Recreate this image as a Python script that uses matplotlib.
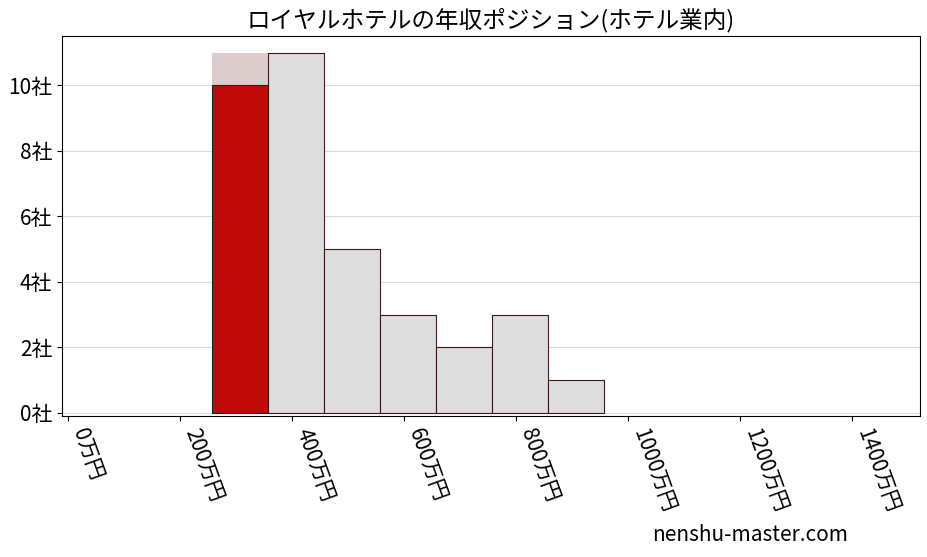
import matplotlib
matplotlib.use("Agg")
import matplotlib.pyplot as plt

plt.rcParams['font.family'] = ['Noto Sans CJK JP', 'DejaVu Sans']

# bin centres (万円) and company counts
centers = [307, 407, 507, 607, 707, 807, 907]
counts = [11, 11, 5, 3, 2, 3, 1]
own_center = 307
own_count = 10
xticks = [0, 200, 400, 600, 800, 1000, 1200, 1400]
yticks = [0, 2, 4, 6, 8, 10]

fig = plt.figure(figsize=(9.27, 5.57), dpi=100)
ax = fig.add_axes([0.067, 0.253, 0.925, 0.682])

ax.bar(centers[0], counts[0], width=100, color='#dccccc', edgecolor='none', zorder=2)
ax.bar(centers[1:], counts[1:], width=100, color='#dddddd', edgecolor='#3a1a1a', linewidth=0.8, zorder=2)
ax.bar(own_center, own_count, width=100, color='#c00a0a', edgecolor='#222222', linewidth=0.8, zorder=3)

ax.set_xlim(-11, 1521)
ax.set_ylim(-0.1, 11.5)
ax.set_xticks(xticks)
ax.set_xticklabels([f'{v}万円' for v in xticks], rotation=-70, ha='left', fontsize=15)
ax.set_yticks(yticks)
ax.set_yticklabels([f'{v}社' for v in yticks], fontsize=15)
ax.grid(axis='y', color='#dddddd', linewidth=0.8, zorder=0)
ax.set_axisbelow(True)
ax.set_title('ロイヤルホテルの年収ポジション(ホテル業内)', fontsize=17, pad=6)

fig.text(0.915, 0.02, 'nenshu-master.com', fontsize=15, ha='right', va='bottom')
fig.savefig('out.png')
